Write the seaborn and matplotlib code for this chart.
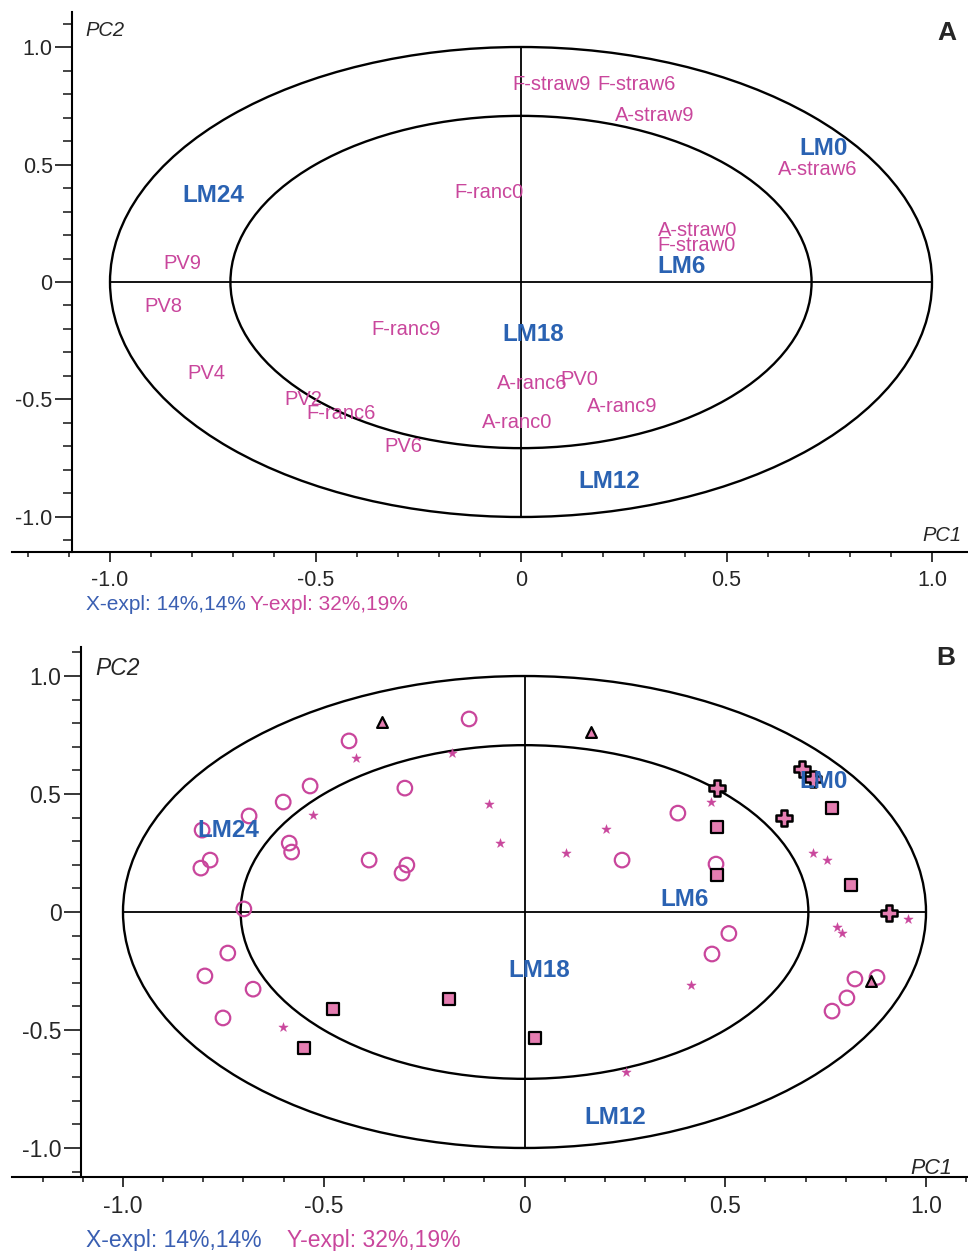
import matplotlib
matplotlib.use("Agg")
import matplotlib.pyplot as plt
import matplotlib.ticker as mticker
from matplotlib.patches import Ellipse
import seaborn as sns

sns.set_theme(style="white")
plt.rcParams['font.family'] = ['Liberation Sans', 'DejaVu Sans']

PINK = "#c9469c"
BLUE = "#2a62b2"
FILL = "#e57db1"

# ---- panel A: loadings (pink = sensory/chemical, blue = storage time) ----
a_lab = ["F-straw9", "F-straw6", "A-straw9", "A-straw6", "F-ranc0", "A-straw0",
         "F-straw0", "PV9", "PV8", "F-ranc9", "PV4", "PV2", "F-ranc6", "PV6",
         "A-ranc6", "PV0", "A-ranc9", "A-ranc0"]
a_x = [0.075, 0.28, 0.325, 0.723, -0.078, 0.43, 0.428, -0.825, -0.871, -0.28,
       -0.766, -0.53, -0.438, -0.287, 0.027, 0.141, 0.246, -0.01]
a_y = [0.84, 0.84, 0.71, 0.48, 0.383, 0.22, 0.157, 0.08, -0.106, -0.204,
       -0.39, -0.502, -0.559, -0.70, -0.434, -0.413, -0.528, -0.596]

a_lm = ["LM0", "LM24", "LM6", "LM18", "LM12"]
a_lm_x = [0.737, -0.749, 0.39, 0.029, 0.214]
a_lm_y = [0.57, 0.37, 0.068, -0.225, -0.85]

# ---- panel B: scores ----
circ_x = [-0.138, -0.437, -0.534, -0.601, -0.686, -0.803, -0.783, -0.806, -0.586,
          -0.580, -0.298, -0.387, -0.293, -0.305, -0.699, -0.739, -0.796, -0.676,
          -0.751, 0.382, 0.243, 0.477, 0.509, 0.467, 0.823, 0.878, 0.803, 0.766]
circ_y = [0.818, 0.725, 0.534, 0.466, 0.407, 0.347, 0.220, 0.186, 0.292,
          0.254, 0.525, 0.220, 0.199, 0.165, 0.013, -0.174, -0.271, -0.327,
          -0.449, 0.419, 0.220, 0.203, -0.091, -0.178, -0.284, -0.277, -0.364, -0.420]

star_x = [-0.419, -0.526, -0.181, -0.088, -0.061, 0.103, 0.204, 0.464, 0.719,
          0.753, 0.778, 0.790, 0.955, 0.415, 0.253, -0.602]
star_y = [0.653, 0.411, 0.674, 0.457, 0.292, 0.250, 0.352, 0.466, 0.250,
          0.220, -0.064, -0.089, -0.030, -0.309, -0.678, -0.487]

sq_x = [0.479, 0.479, 0.766, 0.813, -0.476, -0.549, -0.188, 0.026]
sq_y = [0.360, 0.157, 0.441, 0.114, -0.411, -0.576, -0.369, -0.534]

tri_x = [-0.355, 0.166, 0.863]
tri_y = [0.805, 0.763, -0.292]

plus_x = [0.691, 0.719, 0.479, 0.646, 0.908]
plus_y = [0.606, 0.563, 0.525, 0.398, -0.004]

b_lm = ["LM0", "LM24", "LM6", "LM18", "LM12"]
b_lm_x = [0.746, -0.738, 0.398, 0.037, 0.227]
b_lm_y = [0.551, 0.347, 0.051, -0.246, -0.869]

tick_vals = [-1.0, -0.5, 0.0, 0.5, 1.0]
tick_txt = ["-1.0", "-0.5", "0", "0.5", "1.0"]

W, H = 968, 1251
fig = plt.figure(figsize=(W / 100, H / 100), dpi=100)


def frame(ax, xlim, ylim, spine_x, fs):
    ax.set_xlim(*xlim)
    ax.set_ylim(*ylim)
    ax.set_facecolor("white")
    for s in ["top", "right"]:
        ax.spines[s].set_visible(False)
    ax.spines["left"].set_position(("data", spine_x))
    for s in ["left", "bottom"]:
        ax.spines[s].set_color("black")
        ax.spines[s].set_linewidth(1.5)
    ax.set_xticks(tick_vals)
    ax.set_xticklabels(tick_txt)
    ax.set_yticks(tick_vals)
    ax.set_yticklabels(tick_txt)
    ax.xaxis.set_minor_locator(mticker.MultipleLocator(0.1))
    ax.yaxis.set_minor_locator(mticker.MultipleLocator(0.1))
    ax.tick_params(axis="x", which="major", direction="out", length=7, width=1.3,
                   labelsize=fs, pad=6, bottom=True)
    ax.tick_params(axis="x", which="minor", direction="out", length=3.5, width=1.2, bottom=True)
    ax.tick_params(axis="y", which="major", direction="out", length=12, width=1.3,
                   labelsize=fs, pad=2, left=True)
    ax.tick_params(axis="y", which="minor", direction="out", length=6.5, width=1.2, left=True)
    ax.grid(False)
    # correlation ellipses and cross
    for r in [1.0, 0.707]:
        ax.add_patch(Ellipse((0, 0), 2 * r, 2 * r, fill=False, ec="black", lw=1.7, zorder=1))
    ax.plot([-1, 1], [0, 0], color="black", lw=1.3, zorder=1)
    ax.plot([0, 0], [-1, 1], color="black", lw=1.3, zorder=1)
    ax.set_xlabel("")
    ax.set_ylabel("")


# ---------------- panel A ----------------
axA = fig.add_axes([12 / W, 1 - 552 / H, 956 / W, 540 / H])
frame(axA, ((12 - 521) / 411, (968 - 521) / 411), (-1.149, 1.149), -1.092, 15.5)
for t, x, y in zip(a_lab, a_x, a_y):
    axA.text(x, y, t, color=PINK, fontsize=14.5, ha="center", va="center", zorder=3)
for t, x, y in zip(a_lm, a_lm_x, a_lm_y):
    axA.text(x, y, t, color=BLUE, fontsize=17.5, fontweight="bold", ha="center", va="center", zorder=3)
axA.text(-1.061, 1.072, "PC2", fontsize=14.5, style="italic", ha="left", va="center")
axA.text(1.071, -1.077, "PC1", fontsize=14.5, style="italic", ha="right", va="center")
axA.text(1.036, 1.06, "A", fontsize=19, fontweight="bold", ha="center", va="center")
fig.text(86 / W, 1 - 605 / H, "X-expl: 14%,14%", color="#3a5fb2", fontsize=15, va="center")
fig.text(250 / W, 1 - 605 / H, "Y-expl: 32%,19%", color=PINK, fontsize=15, va="center")

# ---------------- panel B ----------------
axB = fig.add_axes([12 / W, 1 - 1177 / H, 956 / W, 530 / H])
frame(axB, ((12 - 524.5) / 401.5, (968 - 524.5) / 401.5), (-1.123, 1.123), -1.105, 16.5)
sns.scatterplot(x=circ_x, y=circ_y, marker="o", s=110, facecolor="none",
                edgecolor=PINK, linewidth=1.6, ax=axB, zorder=3)
sns.scatterplot(x=star_x, y=star_y, marker="*", s=50, color=PINK,
                edgecolor=PINK, linewidth=0.3, ax=axB, zorder=3)
sns.scatterplot(x=sq_x, y=sq_y, marker="s", s=70, color=FILL,
                edgecolor="black", linewidth=1.6, ax=axB, zorder=3)
sns.scatterplot(x=tri_x, y=tri_y, marker="^", s=60, color=FILL,
                edgecolor="black", linewidth=1.6, ax=axB, zorder=3)
sns.scatterplot(x=plus_x, y=plus_y, marker="P", s=130, color=FILL,
                edgecolor="black", linewidth=1.8, ax=axB, zorder=3)
for t, x, y in zip(b_lm, b_lm_x, b_lm_y):
    axB.text(x, y, t, color=BLUE, fontsize=17.5, fontweight="bold", ha="center", va="center", zorder=4)
axB.text(-1.07, 1.034, "PC2", fontsize=16.5, style="italic", ha="left", va="center")
axB.text(1.065, -1.085, "PC1", fontsize=15.5, style="italic", ha="right", va="center")
axB.text(1.05, 1.076, "B", fontsize=19, fontweight="bold", ha="center", va="center")
fig.text(86 / W, 1 - 1240 / H, "X-expl: 14%,14%", color="#3a5fb2", fontsize=16.5, va="center")
fig.text(287 / W, 1 - 1240 / H, "Y-expl: 32%,19%", color=PINK, fontsize=16.5, va="center")

fig.savefig("out.png", dpi=100, facecolor="white")
